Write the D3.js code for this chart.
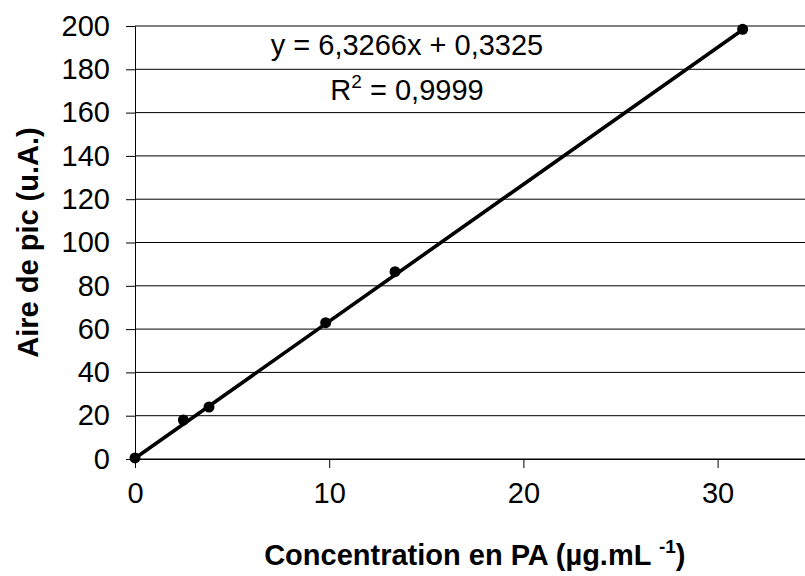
<!DOCTYPE html>
<html>
<head>
<meta charset="utf-8">
<script src="https://cdn.jsdelivr.net/npm/d3@7"></script>
<style>
  html, body { margin: 0; padding: 0; background: #fff; }
  svg { display: block; }
  text { font-family: "Liberation Sans", Arial, sans-serif; fill: #000; }
</style>
</head>
<body>
<svg id="chart" width="805" height="576"></svg>
<script>
// Calibration data: concentration (µg/mL) vs peak area (u.A.)
const concentration = [0, 2.49, 3.81, 9.82, 13.39, 31.29];
const peakArea      = [0.5, 18.0, 24.0, 62.95, 86.5, 198.5];
const xTicks = [0, 10, 20, 30];
const yTicks = [0, 20, 40, 60, 80, 100, 120, 140, 160, 180, 200];
const slope = 6.3266;
const intercept = 0.3325;
const equationLabel = "y = 6,3266x + 0,3325";
const r2Label = "0,9999";

const svg = d3.select("#chart");
const plotLeft = 135, plotTop = 26, plotBottom = 459;
const plotRight = plotLeft + 35 * 19.42;

const x = d3.scaleLinear().domain([0, 35]).range([plotLeft, plotRight]);
const y = d3.scaleLinear().domain([0, 200]).range([plotBottom, plotTop]);

const FS = 29;

// horizontal gridlines
svg.append("g")
  .selectAll("line")
  .data(yTicks)
  .join("line")
  .attr("x1", plotLeft).attr("x2", plotRight)
  .attr("y1", d => y(d)).attr("y2", d => y(d))
  .attr("stroke", "#000").attr("stroke-width", 1);

// y axis
const yAxis = svg.append("g")
  .attr("transform", `translate(${plotLeft},0)`)
  .call(d3.axisLeft(y).tickValues(yTicks).tickSize(9).tickPadding(16).tickFormat(d3.format("d")));
yAxis.select(".domain").attr("stroke", "#000").attr("stroke-width", 1);
yAxis.selectAll(".tick line").attr("stroke", "#000");
yAxis.selectAll(".tick text")
  .attr("font-size", FS).attr("font-family", "Liberation Sans, Arial, sans-serif")
  .attr("fill", "#000");

// x axis
const xAxis = svg.append("g")
  .attr("transform", `translate(0,${plotBottom})`)
  .call(d3.axisBottom(x).tickValues(xTicks).tickSize(9).tickPadding(14).tickFormat(d3.format("d")));
xAxis.select(".domain").attr("stroke", "#000").attr("stroke-width", 1);
xAxis.selectAll(".tick line").attr("stroke", "#000");
xAxis.selectAll(".tick text")
  .attr("font-size", FS).attr("font-family", "Liberation Sans, Arial, sans-serif")
  .attr("fill", "#000");

// linear regression trendline
const xMax = d3.max(concentration);
svg.append("line")
  .attr("x1", x(0)).attr("y1", y(intercept))
  .attr("x2", x(xMax)).attr("y2", y(slope * xMax + intercept))
  .attr("stroke", "#000").attr("stroke-width", 3.6);

// data points
svg.append("g")
  .selectAll("circle")
  .data(concentration.map((c, i) => [c, peakArea[i]]))
  .join("circle")
  .attr("cx", d => x(d[0])).attr("cy", d => y(d[1]))
  .attr("r", 5.5).attr("fill", "#000");

// regression equation and R²
const eqX = 407;
svg.append("text")
  .attr("x", eqX).attr("y", 55)
  .attr("text-anchor", "middle").attr("font-size", FS)
  .text(equationLabel);
const r2 = svg.append("text")
  .attr("x", eqX).attr("y", 100)
  .attr("text-anchor", "middle").attr("font-size", FS);
r2.append("tspan").text("R");
r2.append("tspan").attr("font-size", 19).attr("dy", -12).text("2");
r2.append("tspan").attr("dy", 12).text(" = " + r2Label);

// axis titles
const xt = svg.append("text")
  .attr("x", (plotLeft + plotRight) / 2).attr("y", 565)
  .attr("text-anchor", "middle").attr("font-size", FS).attr("font-weight", "bold");
xt.append("tspan").text("Concentration en PA (µg.mL ");
xt.append("tspan").attr("font-size", 19).attr("dy", -12).text("-1");
xt.append("tspan").attr("dy", 12).text(")");

svg.append("text")
  .attr("transform", `translate(38,${(plotTop + plotBottom) / 2}) rotate(-90)`)
  .attr("text-anchor", "middle").attr("font-size", FS).attr("font-weight", "bold")
  .text("Aire de pic (u.A.)");
</script>
</body>
</html>
